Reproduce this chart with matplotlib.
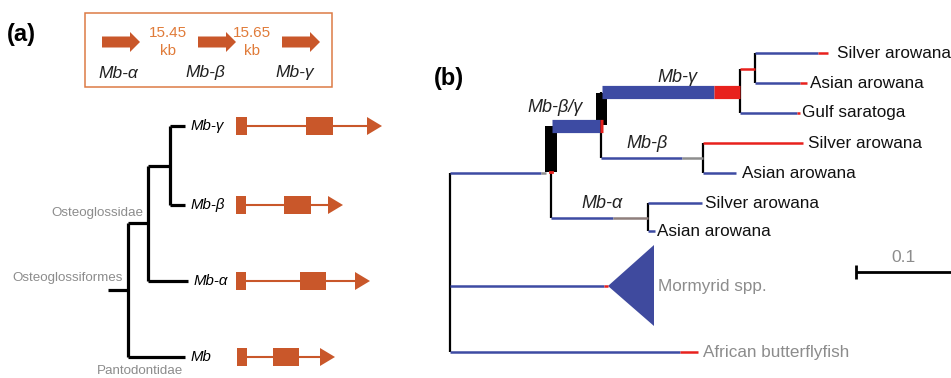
import matplotlib.pyplot as plt
from matplotlib.patches import Rectangle, Polygon, FancyArrow

plt.rcParams['font.family'] = ['Liberation Sans', 'DejaVu Sans']

ORANGE = '#c9572a'
ORANGE_TXT = '#e07b39'
BLUE = '#3d4ba3'
RED = '#e8211d'
GRAY = '#8e8e8e'
BROWN = '#8f7f7c'
LABEL_GRAY = '#8c8c8c'

# ---- panel (a): gene order box ----
box_genes = ['Mb-α', 'Mb-β', 'Mb-γ']
box_arrow_x = [102, 198, 282]
box_label_x = [118, 205, 295]
box_gaps = ['15.45\nkb', '15.65\nkb']
box_gap_x = [168, 252]

# ---- panel (a): gene tree + exon structure ----
a_leaves = ['Mb-γ', 'Mb-β', 'Mb-α', 'Mb']
a_leaf_y = [126, 205, 281, 357]
a_leaf_end = [185, 185, 188, 185]
a_node_x = [170, 148, 128]   # (γ,β), (+α), (+Mb)
a_root_x = 108
exon1 = [(236, 247), (236, 246), (236, 246), (237, 247)]
exon2 = [(306, 333), (284, 311), (300, 326), (273, 299)]
gene_tip = [382, 343, 370, 335]
a_groups = ['Osteoglossidae', 'Osteoglossiformes', 'Pantodontidae']

# ---- panel (b): branches (y, breakpoints, colours, thick) ----
b_branch_y = [173, 126, 92, 69, 53, 83, 113, 158, 143, 173, 218, 203, 231, 286, 352]
b_branch_x = [[450, 541, 546], [552, 600, 603], [602, 714, 740], [740, 755],
              [755, 818, 828], [755, 800, 807], [740, 797, 800],
              [601, 682, 703], [703, 803], [703, 736],
              [551, 613, 648], [648, 702], [648, 655],
              [450, 604, 608], [450, 680, 698]]
b_branch_c = [[BLUE, GRAY], [BLUE, RED], [BLUE, RED], [RED],
              [BLUE, RED], [BLUE, RED], [BLUE, RED],
              [BLUE, GRAY], [RED], [BLUE],
              [BLUE, BROWN], [BLUE], [BLUE],
              [BLUE, RED], [BLUE, RED]]
b_thick = [False, True, True] + [False] * 12
# vertical connectors (x, y0, y1)
b_vert = [(450, 173, 352), (551, 126, 218), (601, 92, 158), (740, 69, 113),
          (755, 53, 83), (703, 143, 173), (648, 203, 231)]
# thick black node bars (x0, x1, y0, y1)
b_bars = [(545, 557, 126, 172), (596, 607, 93, 125)]
b_leaves = ['Silver arowana', 'Asian arowana', 'Gulf saratoga',
            'Silver arowana', 'Asian arowana', 'Silver arowana', 'Asian arowana']
b_leaf_xy = [(837, 53), (810, 83), (802, 113), (808, 143), (742, 173),
             (705, 203), (657, 231)]
b_clades = ['Mb-β/γ', 'Mb-γ', 'Mb-β', 'Mb-α']
b_clade_xy = [(555, 107), (677, 77), (647, 143), (602, 204)]

fig = plt.figure(figsize=(9.51, 3.78), dpi=100)
ax = fig.add_axes([0, 0, 1, 1])
ax.set_xlim(0, 951)
ax.set_ylim(378, 0)
ax.axis('off')

# panel labels
ax.text(7, 35, '(a)', fontsize=17, fontweight='bold', va='center')
ax.text(434, 78, '(b)', fontsize=17, fontweight='bold', va='center')

# gene order box
ax.add_patch(Rectangle((85, 13), 247, 74, fill=False, ec='#dc7a45', lw=1.1))
for x in box_arrow_x:
    ax.add_patch(FancyArrow(x, 42, 28, 0, width=11, head_width=20,
                            head_length=10, length_includes_head=False,
                            color=ORANGE, lw=0))
for x, g in zip(box_label_x, box_genes):
    ax.text(x, 73, g, fontsize=12.5, style='italic', ha='center', va='center',
            color='#222222')
for x, t in zip(box_gap_x, box_gaps):
    ax.text(x, 42, t, fontsize=11, ha='center', va='center', color=ORANGE_TXT,
            linespacing=1.35)

# gene tree (a)
tree_kw = dict(color='black', lw=2.3, solid_capstyle='butt')
n1_y = (a_leaf_y[0] + a_leaf_y[1]) / 2
n2_y = (n1_y + a_leaf_y[2]) / 2
n3_y = (n2_y + a_leaf_y[3]) / 2
ax.plot([a_node_x[0], a_node_x[0]], [a_leaf_y[0], a_leaf_y[1]], **tree_kw)
ax.plot([a_node_x[1], a_node_x[1]], [n1_y, a_leaf_y[2]], **tree_kw)
ax.plot([a_node_x[2], a_node_x[2]], [n2_y, a_leaf_y[3]], **tree_kw)
ax.plot([a_node_x[1], a_node_x[0]], [n1_y, n1_y], **tree_kw)
ax.plot([a_node_x[2], a_node_x[1]], [n2_y, n2_y], **tree_kw)
ax.plot([a_root_x, a_node_x[2]], [n3_y, n3_y], **tree_kw)
leaf_parent = [a_node_x[0], a_node_x[0], a_node_x[1], a_node_x[2]]
for name, y, x0, x1 in zip(a_leaves, a_leaf_y, leaf_parent, a_leaf_end):
    ax.plot([x0, x1], [y, y], **tree_kw)
    ax.text(x1 + 6, y, name, fontsize=10.8, style='italic', va='center')
ax.text(143, 213, a_groups[0], fontsize=9.6, color=LABEL_GRAY, ha='right', va='center')
ax.text(12, 278, a_groups[1], fontsize=9.6, color=LABEL_GRAY, va='center')
ax.text(97, 371, a_groups[2], fontsize=9.6, color=LABEL_GRAY, va='center')

# exon structures
for y, e1, e2, tip in zip(a_leaf_y, exon1, exon2, gene_tip):
    h = 18
    ax.plot([e1[1], tip - 14], [y, y], color=ORANGE, lw=1.5)
    ax.add_patch(Rectangle((e1[0], y - h / 2), e1[1] - e1[0], h, color=ORANGE, lw=0))
    ax.add_patch(Rectangle((e2[0], y - h / 2), e2[1] - e2[0], h, color=ORANGE, lw=0))
    ax.add_patch(Polygon([(tip - 15, y - 9), (tip, y), (tip - 15, y + 9)],
                         closed=True, color=ORANGE, lw=0))

# tree (b)
for x, y0, y1 in b_vert:
    ax.plot([x, x], [y0, y1], color='black', lw=1.6, solid_capstyle='butt')
for x0, x1, y0, y1 in b_bars:
    ax.add_patch(Rectangle((x0, y0), x1 - x0, y1 - y0, color='black', lw=0, zorder=3))
for y, xs, cs, thick in zip(b_branch_y, b_branch_x, b_branch_c, b_thick):
    for i, c in enumerate(cs):
        ax.plot([xs[i], xs[i + 1]], [y, y], color=c, lw=9.5 if thick else 1.8,
                solid_capstyle='butt', zorder=4)
ax.plot([550, 552], [172, 172], color=RED, lw=2, zorder=5)

# collapsed mormyrid clade
ax.add_patch(Polygon([(608, 286), (654, 245), (654, 326)], closed=True,
                     color='#3f4a9e', lw=0))

for name, (x, y) in zip(b_leaves, b_leaf_xy):
    ax.text(x, y, name, fontsize=12.3, va='center', color='#111111')
ax.text(658, 286, 'Mormyrid spp.', fontsize=12.3, va='center', color=LABEL_GRAY)
ax.text(703, 352, 'African butterflyfish', fontsize=12.3, va='center', color=LABEL_GRAY)
for name, (x, y) in zip(b_clades, b_clade_xy):
    ax.text(x, y, name, fontsize=13, style='italic', ha='center', va='center',
            color='#222222')

# scale bar
ax.plot([856, 951], [272, 272], color='black', lw=2, solid_capstyle='butt')
ax.plot([856, 856], [265, 279], color='black', lw=2, solid_capstyle='butt')
ax.text(904, 258, '0.1', fontsize=12.5, ha='center', va='center', color=LABEL_GRAY)

fig.savefig('out.png', dpi=100)
